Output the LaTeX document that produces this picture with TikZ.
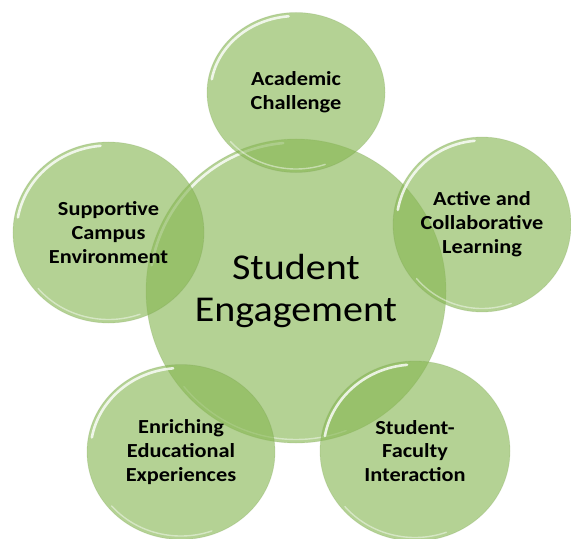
\documentclass[tikz,border=0pt]{standalone}
\usepackage{fontspec}
\setmainfont{Carlito}
\newfontfamily\lblfont[FakeStretch=1.12]{Carlito}
\newfontfamily\hubfont[FakeStretch=1.1]{Carlito}
\usetikzlibrary{shapes.geometric}
\definecolor{bub}{RGB}{134,182,82}
\definecolor{rimdark}{RGB}{110,150,70}
\tikzset{
  bubble/.style={ellipse, inner sep=0pt, fill=bub, fill opacity=0.62, text opacity=1,
                 align=center, text=black, draw=rimdark, draw opacity=0.18, line width=0.8bp},
  smalltext/.style={font=\lblfont\bfseries\fontsize{20}{24}\selectfont},
  bigtext/.style={font=\hubfont\fontsize{36.5}{42}\selectfont},
  gloss/.style={white, line width=2.6bp, opacity=0.8, line cap=round},
  glosstop/.style={white, line width=1.4bp, opacity=0.45, line cap=round}
}
\newcommand\bubbleat[7]{%
  \node[bubble,#6,minimum width=#4bp,minimum height=#5bp] (#1) at (#2,#3) {#7};
  \pgfmathsetmacro\rxx{#4/2-3.5}\pgfmathsetmacro\ryy{#5/2-3.5}
  \draw[gloss] (#1.center) ++(190:{\rxx} and {\ryy})
     arc[start angle=190, end angle=265, x radius=\rxx, y radius=\ryy];
  \draw[glosstop] (#1.center) ++(70:{\rxx} and {\ryy})
     arc[start angle=70, end angle=140, x radius=\rxx, y radius=\ryy];
}
\begin{document}
\begin{tikzpicture}[x=1bp,y=-1bp]
\useasboundingbox (0,0) rectangle (571,539);
\bubbleat{hub}{296}{291}{300}{304}{bigtext}{Student\\Engagement}
\bubbleat{acad}{296}{92.5}{178}{160}{smalltext}{Academic\\Challenge}
\bubbleat{active}{482}{224.5}{178}{175}{smalltext}{Active and\\Collaborative\\Learning}
\bubbleat{support}{108.5}{232.5}{191}{181}{smalltext}{Supportive\\Campus\\Environment}
\bubbleat{enrich}{181}{452}{188}{175}{smalltext}{Enriching\\Educational\\Experiences}
\bubbleat{faculty}{415}{451}{190}{180}{smalltext}{Student-\\Faculty\\Interaction}
\end{tikzpicture}
\end{document}
